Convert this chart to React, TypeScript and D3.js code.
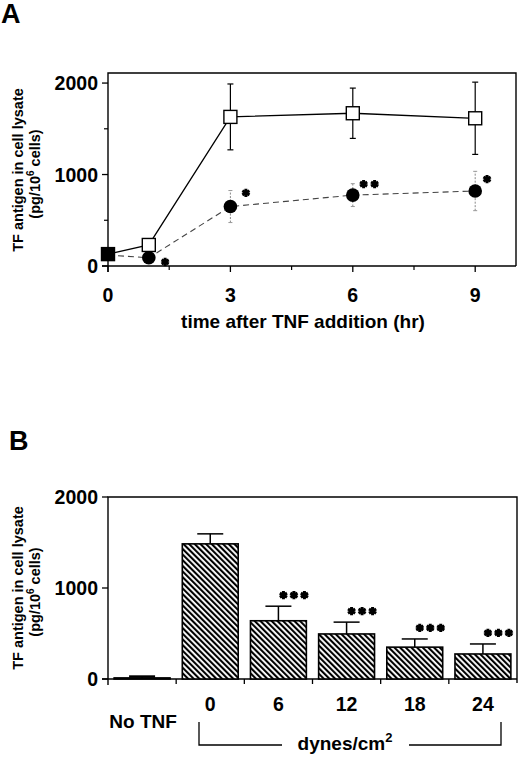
import React, { useEffect, useRef } from "react";
import * as d3 from "d3";

// Panel A: TF antigen over time after TNF addition
const hours = [0, 1, 3, 6, 9];
const staticMean = [130, 230, 1630, 1670, 1615];
const staticErr = [0, 0, 360, 275, 395];
const shearMean = [120, 90, 650, 775, 820];
const shearErr = [0, 0, 175, 125, 215];
// significance marks (hour, value level, count)
const starsA = [
  { t: 1.4, v: 44, n: 1 },
  { t: 3.38, v: 800, n: 1 },
  { t: 6.4, v: 896, n: 2 },
  { t: 9.29, v: 950, n: 1 },
];
const xTicksA = [0, 3, 6, 9];
const xMinorA = [1.5, 4.5, 7.5];
const yTicksA = [0, 1000, 2000];
const yMinorA = [500, 1500];

// Panel B: TF antigen vs shear stress
const categories = ["No TNF", "0", "6", "12", "18", "24"];
const barMean = [12, 1485, 640, 495, 350, 275];
const barErr = [15, 110, 160, 130, 90, 110];
const barStars = [0, 0, 3, 3, 3, 3];
const yTicksB = [0, 1000, 2000];

const W = 520;
const H = 757;
const FONT = "'Liberation Sans', Arial, Helvetica, sans-serif";

const App: React.FC = () => {
  const svgRef = useRef<SVGSVGElement>(null);

  useEffect(() => {
    if (!svgRef.current) return;
    const svg = d3.select(svgRef.current);
    svg.selectAll("*").remove();
    svg.attr("width", W).attr("height", H).attr("viewBox", `0 0 ${W} ${H}`)
      .style("font-family", FONT).style("font-weight", "bold");

    const defs = svg.append("defs");
    const pat = defs.append("pattern")
      .attr("id", "hatch")
      .attr("patternUnits", "userSpaceOnUse")
      .attr("width", 4)
      .attr("height", 4)
      .attr("patternTransform", "rotate(-45)");
    pat.append("rect").attr("width", 4).attr("height", 4).attr("fill", "#fff");
    pat.append("rect").attr("x", 0).attr("y", 0).attr("width", 2.1).attr("height", 4)
      .attr("fill", "#000");

    const star = d3.symbol().type(d3.symbolAsterisk).size(48);

    const yLabel = (cy: number) => {
      const g = svg.append("g").attr("transform", `translate(0,${cy}) rotate(-90)`);
      g.append("text").attr("x", 0).attr("y", 23).attr("text-anchor", "middle")
        .style("font-size", "14.5px").text("TF antigen in cell lysate");
      const t2 = g.append("text").attr("x", -4).attr("y", 40).attr("text-anchor", "middle")
        .style("font-size", "14.5px");
      t2.append("tspan").text("(pg/10");
      t2.append("tspan").attr("dy", -6).style("font-size", "10px").text("6");
      t2.append("tspan").attr("dy", 6).text(" cells)");
    };

    // ---------- Panel A ----------
    svg.append("text").attr("x", 1).attr("y", 23).style("font-size", "27px").text("A");

    const xA = d3.scaleLinear().domain([0, 10]).range([108, 516]);
    const yA = d3.scaleLinear().domain([0, 2110]).range([266, 73]);
    const gA = svg.append("g");

    // frame
    gA.append("path")
      .attr("d", `M${xA(0)},${yA(0) + 6}V${yA(2110)}H${xA(10)}V${yA(0)}`)
      .attr("fill", "none").attr("stroke", "#000").attr("stroke-width", 1.4);
    gA.append("line").attr("x1", xA(0) - 6).attr("x2", xA(10))
      .attr("y1", yA(0)).attr("y2", yA(0)).attr("stroke", "#000").attr("stroke-width", 1.4);

    gA.selectAll(".ty").data(yTicksA).join("line")
      .attr("x1", xA(0) - 6).attr("x2", xA(0)).attr("y1", d => yA(d)).attr("y2", d => yA(d))
      .attr("stroke", "#000").attr("stroke-width", 1.3);
    gA.selectAll(".tym").data(yMinorA).join("line")
      .attr("x1", xA(0) - 4).attr("x2", xA(0)).attr("y1", d => yA(d)).attr("y2", d => yA(d))
      .attr("stroke", "#000").attr("stroke-width", 1.2);
    gA.selectAll(".tyl").data(yTicksA).join("text")
      .attr("x", 98).attr("y", d => yA(d) + 7).attr("text-anchor", "end")
      .style("font-size", "19.5px").text(d => d);

    gA.selectAll(".tx").data(xTicksA).join("line")
      .attr("x1", d => xA(d)).attr("x2", d => xA(d)).attr("y1", yA(0)).attr("y2", yA(0) + 6)
      .attr("stroke", "#000").attr("stroke-width", 1.3);
    gA.selectAll(".txm").data(xMinorA).join("line")
      .attr("x1", d => xA(d)).attr("x2", d => xA(d)).attr("y1", yA(0)).attr("y2", yA(0) + 4)
      .attr("stroke", "#000").attr("stroke-width", 1.2);
    gA.selectAll(".txl").data(xTicksA).join("text")
      .attr("x", d => xA(d)).attr("y", 302).attr("text-anchor", "middle")
      .style("font-size", "19.5px").text(d => d);
    gA.append("text").attr("x", 303).attr("y", 328).attr("text-anchor", "middle")
      .style("font-size", "19px").text("time after TNF addition (hr)");

    yLabel(170);

    const ptsStatic = hours.map((t, i) => ({ t, m: staticMean[i], e: staticErr[i] }));
    const ptsShear = hours.map((t, i) => ({ t, m: shearMean[i], e: shearErr[i] }));
    const line = d3.line<{ t: number; m: number }>().x(d => xA(d.t)).y(d => yA(d.m));

    // shear series (dashed, grey dotted error bars)
    gA.selectAll(".eShear").data(ptsShear.filter(d => d.e > 0)).join("line")
      .attr("x1", d => xA(d.t)).attr("x2", d => xA(d.t))
      .attr("y1", d => yA(d.m - d.e)).attr("y2", d => yA(d.m + d.e))
      .attr("stroke", "#888").attr("stroke-width", 1).attr("stroke-dasharray", "2,1.5");
    gA.selectAll(".cShear").data(ptsShear.filter(d => d.e > 0).flatMap(d => [d.m - d.e, d.m + d.e].map(v => ({ t: d.t, v })))).join("line")
      .attr("x1", d => xA(d.t) - 2).attr("x2", d => xA(d.t) + 2)
      .attr("y1", d => yA(d.v)).attr("y2", d => yA(d.v))
      .attr("stroke", "#999").attr("stroke-width", 1);
    gA.append("path").datum(ptsShear).attr("d", line).attr("fill", "none")
      .attr("stroke", "#444").attr("stroke-width", 1.1).attr("stroke-dasharray", "6,4");

    // static series (solid, open squares)
    gA.selectAll(".eStatic").data(ptsStatic.filter(d => d.e > 0)).join("line")
      .attr("x1", d => xA(d.t)).attr("x2", d => xA(d.t))
      .attr("y1", d => yA(d.m - d.e)).attr("y2", d => yA(d.m + d.e))
      .attr("stroke", "#000").attr("stroke-width", 1.2);
    gA.selectAll(".cStatic").data(ptsStatic.filter(d => d.e > 0).flatMap(d => [d.m - d.e, d.m + d.e].map(v => ({ t: d.t, v })))).join("line")
      .attr("x1", d => xA(d.t) - 3).attr("x2", d => xA(d.t) + 3)
      .attr("y1", d => yA(d.v)).attr("y2", d => yA(d.v))
      .attr("stroke", "#000").attr("stroke-width", 1.2);
    gA.append("path").datum(ptsStatic).attr("d", line).attr("fill", "none")
      .attr("stroke", "#000").attr("stroke-width", 1.3);

    gA.selectAll(".circ").data(ptsShear.filter(d => d.t > 0)).join("circle")
      .attr("cx", d => xA(d.t)).attr("cy", d => yA(d.m)).attr("r", 6.8).attr("fill", "#000");
    // at t=0 both groups coincide: drawn as a filled square
    gA.selectAll(".sq").data(ptsStatic).join("rect")
      .attr("x", d => xA(d.t) - 6.5).attr("y", d => yA(d.m) - 6.5)
      .attr("width", 13).attr("height", 13)
      .attr("fill", d => (d.t === 0 ? "#000" : "#fff")).attr("stroke", "#000").attr("stroke-width", 1.4);

    gA.selectAll(".starA").data(starsA.flatMap(s => d3.range(s.n).map(k => ({ t: s.t, v: s.v, k, n: s.n })))).join("path")
      .attr("d", star)
      .attr("transform", d => `translate(${xA(d.t) + (d.k - (d.n - 1) / 2) * 11},${yA(d.v)})`)
      .attr("stroke", "#000").attr("stroke-width", 3).attr("fill", "none");

    // ---------- Panel B ----------
    svg.append("text").attr("x", 9).attr("y", 450).style("font-size", "27px").text("B");

    const xB = d3.scaleBand<string>().domain(categories).range([108, 517]).paddingInner(0.18).paddingOuter(0.09);
    const yB = d3.scaleLinear().domain([0, 2000]).range([679, 497]);
    const gB = svg.append("g");

    gB.append("path")
      .attr("d", `M${108},${yB(0) + 6}V${yB(2000)}H${517}V${yB(0) + 4}`)
      .attr("fill", "none").attr("stroke", "#000").attr("stroke-width", 1.4);
    gB.append("line").attr("x1", 102).attr("x2", 517).attr("y1", yB(0)).attr("y2", yB(0))
      .attr("stroke", "#000").attr("stroke-width", 1.4);
    gB.selectAll(".ty").data(yTicksB).join("line")
      .attr("x1", 102).attr("x2", 108).attr("y1", d => yB(d)).attr("y2", d => yB(d))
      .attr("stroke", "#000").attr("stroke-width", 1.3);
    gB.selectAll(".tyl").data(yTicksB).join("text")
      .attr("x", 98).attr("y", d => yB(d) + 7).attr("text-anchor", "end")
      .style("font-size", "19.5px").text(d => d);

    const step = xB.step();
    gB.selectAll(".tx").data(d3.range(1, categories.length)).join("line")
      .attr("x1", k => 108 + k * step).attr("x2", k => 108 + k * step)
      .attr("y1", yB(0)).attr("y2", yB(0) + 5)
      .attr("stroke", "#000").attr("stroke-width", 1.3);

    const bars = categories.map((c, i) => ({ c, m: barMean[i], e: barErr[i], s: barStars[i] }));
    gB.selectAll(".eb").data(bars).join("line")
      .attr("x1", d => xB(d.c)! + xB.bandwidth() / 2).attr("x2", d => xB(d.c)! + xB.bandwidth() / 2)
      .attr("y1", d => yB(d.m)).attr("y2", d => yB(d.m + d.e))
      .attr("stroke", "#000").attr("stroke-width", 1.5);
    gB.selectAll(".cap").data(bars).join("line")
      .attr("x1", d => xB(d.c)! + xB.bandwidth() / 2 - 13).attr("x2", d => xB(d.c)! + xB.bandwidth() / 2 + 13)
      .attr("y1", d => yB(d.m + d.e)).attr("y2", d => yB(d.m + d.e))
      .attr("stroke", "#000").attr("stroke-width", d => (d.c === "No TNF" ? 2.5 : 1.5));
    gB.selectAll(".bar").data(bars).join("rect")
      .attr("x", d => xB(d.c)!).attr("y", d => yB(d.m))
      .attr("width", xB.bandwidth()).attr("height", d => yB(0) - yB(d.m))
      .attr("fill", d => (d.c === "No TNF" ? "#000" : "url(#hatch)"))
      .attr("stroke", "#000").attr("stroke-width", 1.6);

    gB.selectAll(".starB").data(bars.filter(d => d.s > 0).flatMap(d => d3.range(d.s).map(k => ({ ...d, k })))).join("path")
      .attr("d", star)
      .attr("transform", d => `translate(${xB(d.c)! + xB.bandwidth() / 2 + 5 + d.k * 10.5},${yB(d.m + d.e) - 11})`)
      .attr("stroke", "#000").attr("stroke-width", 3).attr("fill", "none");

    gB.selectAll(".txl").data(categories.slice(1)).join("text")
      .attr("x", d => xB(d)! + xB.bandwidth() / 2).attr("y", 711).attr("text-anchor", "middle")
      .style("font-size", "19.5px").text(d => d);
    gB.append("text").attr("x", xB("No TNF")! + xB.bandwidth() / 2 + 1).attr("y", 728)
      .attr("text-anchor", "middle").style("font-size", "19px").text("No TNF");

    // bracket under the shear-stress groups
    gB.append("path").attr("d", `M199,722V745H282M409,745H501V722`)
      .attr("fill", "none").attr("stroke", "#000").attr("stroke-width", 1.3);
    const dy = gB.append("text").attr("x", 345).attr("y", 750).attr("text-anchor", "middle")
      .style("font-size", "19px");
    dy.append("tspan").text("dynes/cm");
    dy.append("tspan").attr("dy", -8).style("font-size", "13px").text("2");

    yLabel(588);
  }, []);

  return (
    <svg ref={svgRef} style={{ position: "absolute", left: 0, top: 0, background: "#fff" }} />
  );
};

export default App;
